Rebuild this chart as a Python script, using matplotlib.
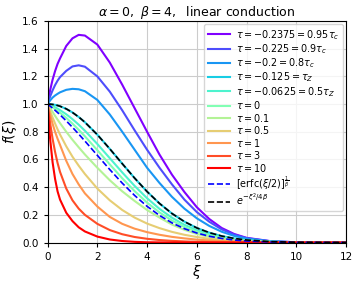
"""
Similarity profiles f(xi) for linear conduction, alpha=0, beta=4.
Values read off the reference figure.
"""
import matplotlib
matplotlib.use("Agg")
import matplotlib.pyplot as plt

# common xi grid
xi = [0, 0.05, 0.1, 0.2, 0.3, 0.4, 0.5, 0.75, 1, 1.25, 1.5, 2, 2.5, 3, 3.5,
      4, 4.5, 5, 5.5, 6, 6.5, 7, 7.5, 8, 9, 10, 12]

f_m02375 = [1.0, 1.053, 1.099, 1.176, 1.238, 1.29, 1.33, 1.42, 1.475, 1.50, 1.495,
            1.43, 1.30, 1.14, 0.97, 0.80, 0.635, 0.49, 0.365, 0.255, 0.17, 0.105,
            0.062, 0.034, 0.009, 0.002, 0.0]
f_m0225 = [1.0, 1.029, 1.054, 1.099, 1.137, 1.169, 1.195, 1.24, 1.272, 1.28, 1.27,
           1.20, 1.09, 0.955, 0.81, 0.67, 0.54, 0.42, 0.31, 0.22, 0.15, 0.095,
           0.057, 0.032, 0.008, 0.002, 0.0]
f_m02 = [1.0, 1.0135, 1.026, 1.047, 1.062, 1.074, 1.085, 1.103, 1.11, 1.107, 1.093,
         1.03, 0.925, 0.80, 0.67, 0.54, 0.43, 0.33, 0.245, 0.175, 0.12, 0.078,
         0.048, 0.028, 0.008, 0.002, 0.0]
f_m0125 = [1.0, 0.9998, 0.9994, 0.9975, 0.9944, 0.99, 0.9845, 0.9655, 0.9394, 0.907,
           0.8689, 0.7788, 0.6767, 0.5698, 0.465, 0.3679, 0.2821, 0.2096, 0.151,
           0.1054, 0.0713, 0.0468, 0.0297, 0.0183, 0.0063, 0.0019, 0.0001]
f_m00625 = [1.0, 0.9967, 0.9932, 0.9854, 0.9767, 0.967, 0.9565, 0.9264, 0.8911, 0.8514,
            0.8078, 0.7118, 0.6093, 0.5065, 0.4087, 0.32, 0.2432, 0.1792, 0.1281,
            0.0888, 0.0597, 0.039, 0.0246, 0.015, 0.0052, 0.0016, 0.0001]
f_0 = [1.0, 0.9946, 0.989, 0.9773, 0.9649, 0.9518, 0.9378, 0.9003, 0.8589, 0.8143,
       0.767, 0.667, 0.5644, 0.4643, 0.3711, 0.2881, 0.2172, 0.1589, 0.1129, 0.0778,
       0.0519, 0.0338, 0.0212, 0.0129, 0.0044, 0.0013, 0.0001]
f_01 = [1.0, 0.985, 0.971, 0.943, 0.915, 0.888, 0.862, 0.80, 0.742, 0.688, 0.636,
        0.54, 0.45, 0.37, 0.30, 0.235, 0.18, 0.13, 0.092, 0.062, 0.041, 0.026,
        0.016, 0.0095, 0.003, 0.001, 0.0]
f_05 = [1.0, 0.975, 0.95, 0.903, 0.86, 0.818, 0.78, 0.695, 0.62, 0.555, 0.495,
        0.39, 0.305, 0.235, 0.18, 0.137, 0.104, 0.077, 0.056, 0.04, 0.027, 0.018,
        0.012, 0.0075, 0.003, 0.001, 0.0]
f_1 = [1.0, 0.96, 0.925, 0.858, 0.80, 0.75, 0.705, 0.59, 0.495, 0.42, 0.355,
       0.26, 0.185, 0.135, 0.10, 0.075, 0.056, 0.041, 0.03, 0.021, 0.015, 0.01,
       0.007, 0.0045, 0.0018, 0.0007, 0.0]
f_3 = [1.0, 0.93, 0.865, 0.75, 0.655, 0.575, 0.51, 0.39, 0.305, 0.245, 0.20,
       0.135, 0.09, 0.06, 0.04, 0.027, 0.018, 0.012, 0.008, 0.005, 0.0033, 0.002,
       0.0013, 0.0008, 0.0003, 0.0001, 0.0]
f_10 = [1.0, 0.86, 0.75, 0.58, 0.46, 0.37, 0.31, 0.215, 0.155, 0.11, 0.08,
        0.043, 0.022, 0.011, 0.005, 0.002, 0.001, 0.0, 0.0, 0.0, 0.0, 0.0,
        0.0, 0.0, 0.0, 0.0, 0.0]

# reference curves
f_erfc = [1.0, 0.9929, 0.9856, 0.9706, 0.9551, 0.939, 0.9223, 0.8786, 0.8321, 0.7834,
          0.7331, 0.6298, 0.527, 0.4291, 0.3398, 0.2615, 0.1956, 0.142, 0.1002,
          0.0686, 0.0455, 0.0294, 0.0184, 0.0111, 0.0037, 0.0011, 0.0001]
f_gauss = f_m0125

profiles = [f_m02375, f_m0225, f_m02, f_m0125, f_m00625, f_0, f_01, f_05, f_1, f_3, f_10]
labels = [r"$\tau=-0.2375=0.95\tau_c$", r"$\tau=-0.225=0.9\tau_c$",
          r"$\tau=-0.2=0.8\tau_c$", r"$\tau=-0.125=\tau_Z$",
          r"$\tau=-0.0625=0.5\tau_Z$", r"$\tau=0$", r"$\tau=0.1$",
          r"$\tau=0.5$", r"$\tau=1$", r"$\tau=3$", r"$\tau=10$"]

cmap = plt.get_cmap("rainbow")
colors = [cmap(i / (len(profiles) - 1)) for i in range(len(profiles))]

fig = plt.figure(figsize=(3.59, 2.84), dpi=100)
ax = fig.add_axes([0.1326, 0.146, 0.8314, 0.78])

for prof, lab, c in zip(profiles, labels, colors):
    ax.plot(xi, prof, color=c, lw=1.5, label=lab)

ax.plot(xi, f_erfc, "b--", lw=1.2, label=r"$[\mathrm{erfc}(\xi/2)]^{\frac{1}{\beta}}$")
ax.plot(xi, f_gauss, "k--", lw=1.2, label=r"$e^{-\xi^2/4\beta}$")

ax.set_xlim(0, 12)
ax.set_ylim(0, 1.6)
ax.set_xticks([0, 2, 4, 6, 8, 10, 12])
ax.set_yticks([0.0, 0.2, 0.4, 0.6, 0.8, 1.0, 1.2, 1.4, 1.6])
ax.tick_params(labelsize=7.5, length=3)
ax.grid(True, color="#cccccc", lw=0.8)
ax.set_xlabel(r"$\xi$", fontsize=10, labelpad=1)
ax.set_ylabel(r"$f(\xi)$", fontsize=10, labelpad=2)
ax.set_title(r"$\alpha=0,\ \beta=4,\ $ linear conduction", fontsize=9, pad=3)
ax.legend(loc="upper right", fontsize=6.9, labelspacing=0.05, handlelength=2.3,
          borderaxespad=0.3, handletextpad=0.6)

fig.savefig("out.png", dpi=100)
